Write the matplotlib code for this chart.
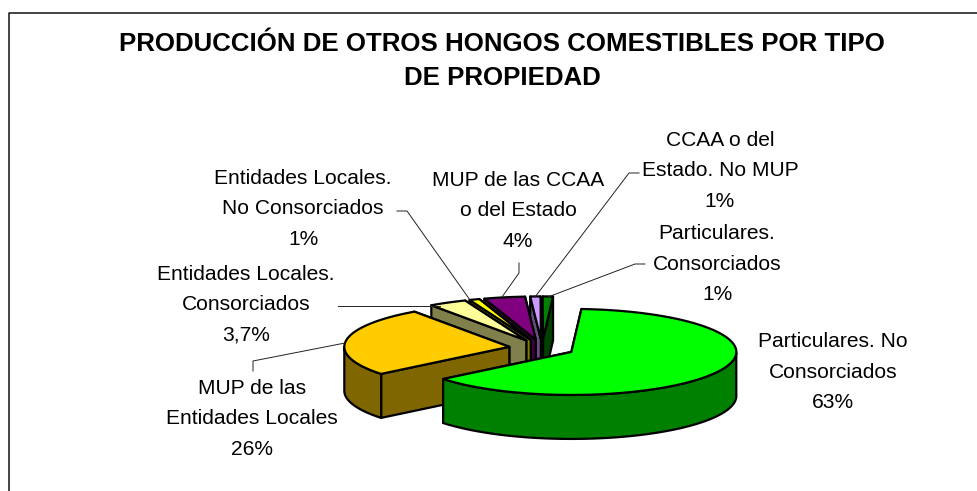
import numpy as np
import matplotlib
matplotlib.use("Agg")
import matplotlib.pyplot as plt

# Exploded 3D pie drawn by hand, axes are in image pixels
plt.rcParams['font.family'] = ['Liberation Sans', 'DejaVu Sans']

title = "PRODUCCIÓN DE OTROS HONGOS COMESTIBLES POR TIPO\nDE PROPIEDAD"

# Slices, in clockwise order
categories = ["Particulares. No\nConsorciados", "MUP de las\nEntidades Locales",
              "Entidades Locales.\nConsorciados", "Entidades Locales.\nNo Consorciados",
              "MUP de las CCAA\no del Estado", "CCAA o del\nEstado. No MUP",
              "Particulares.\nConsorciados"]
values = [63, 26, 3.7, 1, 4, 1, 1]
value_labels = ["63%", "26%", "3,7%", "1%", "4%", "1%", "1%"]

top_colors = ['#00FF00', '#FFCC00', '#FFFF99', '#FFFF00', '#800080', '#CC99FF', '#008000']
side_colors = ['#008000', '#806600', '#80804D', '#808000', '#400040', '#664D80', '#004000']

label_pos = [(833, 372), (252, 419), (246, 305), (303, 209), (518, 211), (720, 171), (717, 264)]
leaders = [None,
           [(253, 371), (253, 361), (345, 343)],
           [(338, 306), (440, 306)],
           [(397, 211), (407, 211), (470, 300)],
           [(519, 263), (519, 273), (502, 297)],
           [(639, 173), (629, 173), (535, 297)],
           [(645, 264), (635, 264), (548, 297)]]

cx, cy = 542, 348
rx, ry = 165, 43
depth = 44
explode = 0.2
start_angle = 86.5
edge_w = 1.6

fig = plt.figure(figsize=(9.77, 4.91), dpi=100)
ax = fig.add_axes([0, 0, 1, 1])
ax.set_xlim(0, 977)
ax.set_ylim(491, 0)
ax.axis('off')


def rim(t):
    t = np.radians(t)
    return rx * np.cos(t), -ry * np.sin(t)


# angles for each slice, going clockwise from the start
shares = np.array(values) / sum(values) * 360
ends = start_angle - np.cumsum(shares)
starts = ends + shares

# back slices first so the front ones cover them
for i in range(len(values) - 1, -1, -1):
    a0, a1 = starts[i], ends[i]
    mid = (a0 + a1) / 2
    ox, oy = rim(mid)
    ax0 = cx + explode * ox
    ay0 = cy + explode * oy

    ts = np.linspace(a1, a0, 120)
    xs, ys = rim(ts)
    xs = ax0 + xs
    ys = ay0 + ys

    # the two cut faces
    for k in (0, -1):
        ax.fill([ax0, xs[k], xs[k], ax0], [ay0, ys[k], ys[k] + depth, ay0 + depth],
                facecolor=side_colors[i], edgecolor='black', lw=edge_w, joinstyle='round')

    # outer wall, only the part that faces the front
    front = np.sin(np.radians(ts)) <= 0
    if front.any():
        fx, fy = xs[front], ys[front]
        ax.fill(np.r_[fx, fx[::-1]], np.r_[fy, fy[::-1] + depth],
                facecolor=side_colors[i], edgecolor='black', lw=edge_w, joinstyle='round')

    # top face
    ax.fill(np.r_[ax0, xs], np.r_[ay0, ys],
            facecolor=top_colors[i], edgecolor='black', lw=edge_w, joinstyle='round')

# leader lines
for pts in leaders:
    if pts:
        ax.plot([p[0] for p in pts], [p[1] for p in pts], color='#222222', lw=0.7)

# labels
for name, val, (x, y) in zip(categories, value_labels, label_pos):
    ax.text(x, y, name + "\n" + val, ha='center', va='center',
            fontsize=15.1, linespacing=1.74, color='black')

ax.text(502, 61, title, ha='center', va='center', fontsize=18.6,
        fontweight='bold', linespacing=1.53, color='black')

# chart frame, only left and top show in the crop
ax.plot([8.5, 8.5, 977], [491, 12.5, 12.5], color='#111111', lw=1.1, clip_on=False)

fig.savefig('out.png', dpi=100)
